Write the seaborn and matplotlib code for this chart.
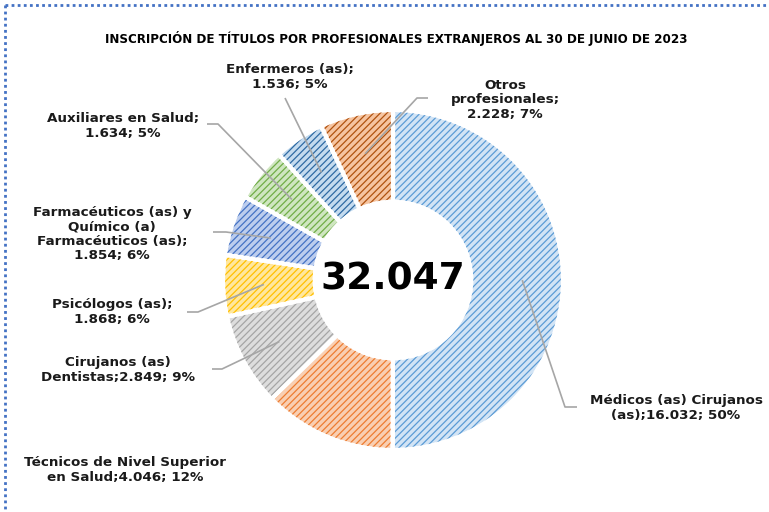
import matplotlib
matplotlib.use('Agg')
import matplotlib.pyplot as plt
from matplotlib.patches import Wedge
import numpy as np
import seaborn as sns

sns.set_theme(style='white')
plt.rcParams['font.family'] = ['DejaVu Sans']
plt.rcParams['hatch.linewidth'] = 0.9

# Data
categorias = [
    'Médicos (as) Cirujanos\n(as);16.032; 50%',
    'Técnicos de Nivel Superior\nen Salud;4.046; 12%',
    'Cirujanos (as)\nDentistas;2.849; 9%',
    'Psicólogos (as);\n1.868; 6%',
    'Farmacéuticos (as) y\nQuímico (a)\nFarmacéuticos (as);\n1.854; 6%',
    'Auxiliares en Salud;\n1.634; 5%',
    'Enfermeros (as);\n1.536; 5%',
    'Otros\nprofesionales;\n2.228; 7%',
]
valores = [16032, 4046, 2849, 1868, 1854, 1634, 1536, 2228]
total_txt = '32.047'
titulo = 'INSCRIPCIÓN DE TÍTULOS POR PROFESIONALES EXTRANJEROS AL 30 DE JUNIO DE 2023'

relleno = ['#d2e4f5', '#f9cfb2', '#dddddd', '#ffe79e', '#bccdee', '#cfe6c0', '#c4dbef', '#f6c4a0']
trama = ['#5b9bd5', '#ed7d31', '#a5a5a5', '#ffc000', '#4472c4', '#70ad47', '#2e6aa3', '#b0520f']

# label layout in pixel coords (from top-left): text centre, leader elbow, leader end
W, H = 769, 512
etiquetas = [
    ((676, 408), (565, 407), (577, 407)),
    ((125, 470), None, None),
    ((118, 370), (222, 369), (212, 369)),
    ((112, 312), (198, 312), (187, 312)),
    ((112, 234), (226, 232), (213, 232)),
    ((123, 126), (218, 124), (207, 124)),
    ((290, 77), None, (285, 98)),
    ((505, 100), (417, 98), (428, 98)),
]


def P(x, y):
    return x, H - y


fig = plt.figure(figsize=(W / 100, H / 100), dpi=100)
ax = fig.add_axes([0, 0, 1, 1])

centro = P(393, 280)
radio = 170
ancho = 0.54 * radio
explode = [0.018] * len(valores)
wedges, _ = ax.pie(valores, startangle=90, counterclock=False, center=centro,
                   radius=radio, explode=explode, colors=relleno,
                   wedgeprops=dict(width=ancho, edgecolor='white', linewidth=3))
# hatch overlay + white borders on top
for w, h in zip(wedges, trama):
    ax.add_patch(Wedge(w.center, w.r, w.theta1, w.theta2, width=w.width,
                       facecolor='none', edgecolor=h, linewidth=0, hatch='/////'))
    ax.add_patch(Wedge(w.center, w.r, w.theta1, w.theta2, width=w.width,
                       facecolor='none', edgecolor='white', linewidth=3))

for w, lab, (tpos, elbow, end) in zip(wedges, categorias, etiquetas):
    ax.text(*P(*tpos), lab, ha='center', va='center', fontsize=9.7,
            fontweight='bold', color='#1a1a1a', linespacing=1.15)
    if end is None:
        continue
    ang = np.deg2rad((w.theta1 + w.theta2) / 2)
    cx, cy = w.center
    px, py = cx + 0.76 * radio * np.cos(ang), cy + 0.76 * radio * np.sin(ang)
    pts = [(px, py)]
    if elbow is not None:
        pts.append(P(*elbow))
    pts.append(P(*end))
    xs, ys = zip(*pts)
    ax.plot(xs, ys, color='#a6a6a6', lw=1.2, solid_capstyle='butt')

ax.text(*P(393, 279), total_txt, ha='center', va='center', fontsize=27,
        fontweight='bold', color='black')

ax.text(*P(396, 38), titulo, ha='center', va='center', fontsize=9.5,
        fontweight='bold', color='black', fontstretch='condensed',
        family=['Liberation Sans Narrow', 'DejaVu Sans'])

# dotted frame (top and left visible)
ax.plot([5, W], [H - 5, H - 5], color='#4472c4', lw=2, ls=(0, (1, 1.2)), clip_on=False)
ax.plot([5, 5], [H - 5, 0], color='#4472c4', lw=2, ls=(0, (1, 1.2)), clip_on=False)

ax.set_xlim(0, W)
ax.set_ylim(0, H)
ax.set_aspect('equal')
ax.axis('off')

fig.savefig('out.png', dpi=100)
